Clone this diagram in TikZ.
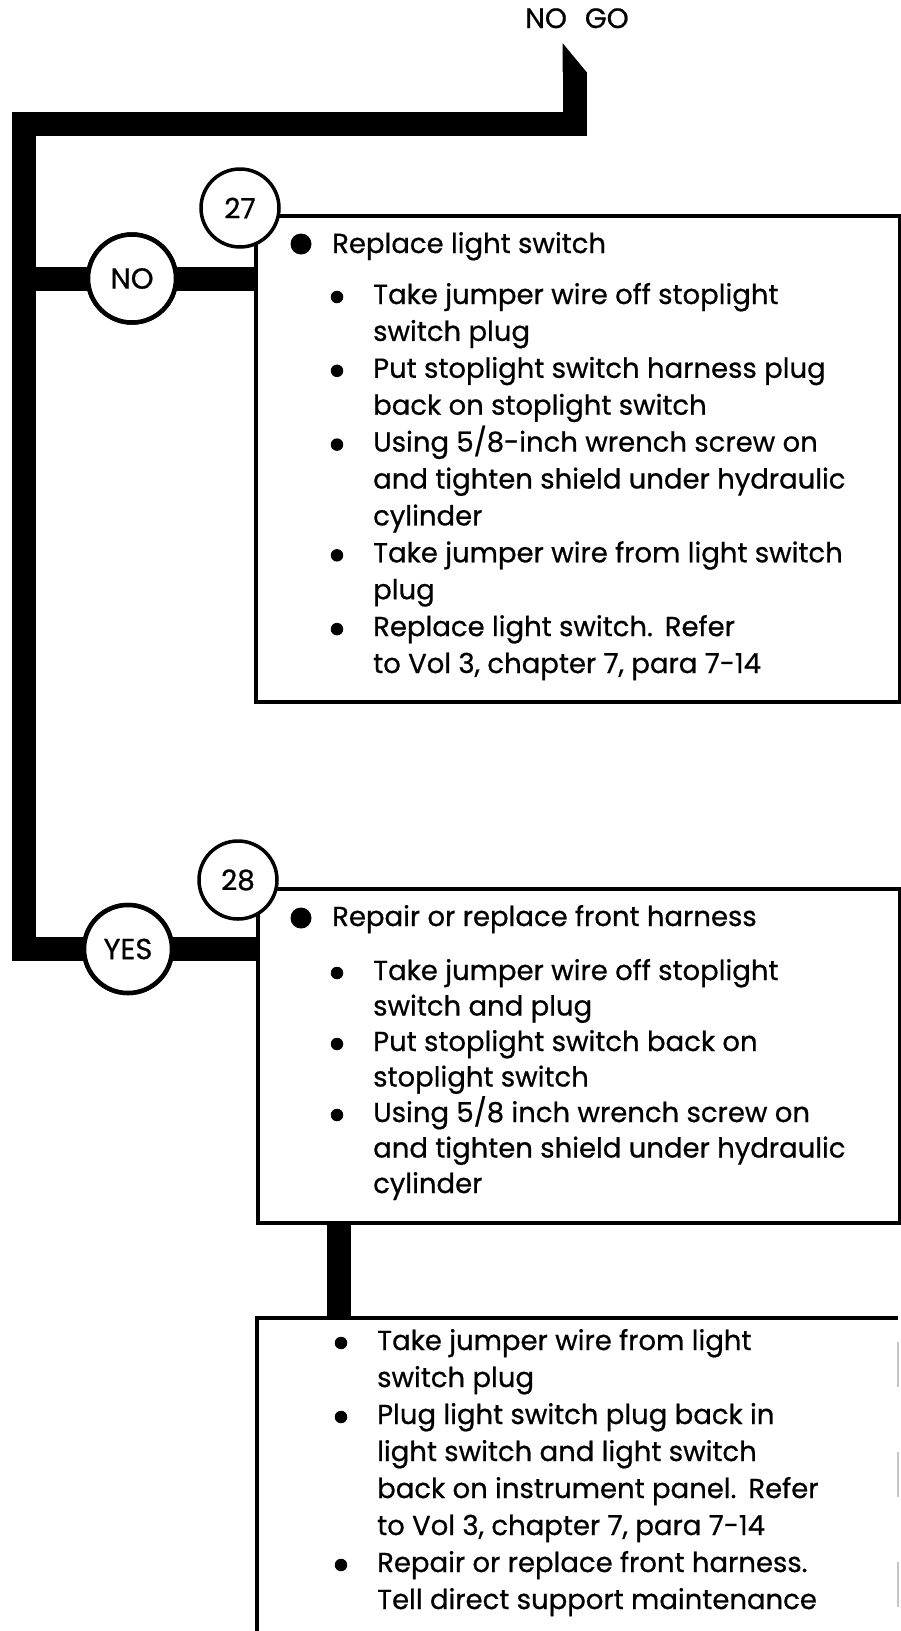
\documentclass[tikz,border=0pt]{standalone}
\usepackage{fontspec}
\setmainfont{Poppins}[FakeBold=0.7]
\begin{document}
\begin{tikzpicture}[x=1pt,y=-1pt]
\tikzset{
  txt/.style={anchor=base west, inner sep=0pt, font=\fontsize{27.5}{32}\selectfont},
  boxframe/.style={draw, line width=3.5pt, fill=white, inner sep=0pt, anchor=north west},
  bar/.style={line width=24pt, line cap=butt, line join=miter},
  numcirc/.style={circle, draw, line width=3.5pt, fill=white, minimum size=78pt, inner sep=0pt, font=\fontsize{28}{30}\selectfont},
  anscirc/.style={circle, draw, line width=4.5pt, fill=white, minimum size=88pt, inner sep=0pt, font=\fontsize{29}{30}\selectfont},
  bigdot/.style={circle, fill, minimum size=21pt, inner sep=0pt},
  smalldot/.style={circle, fill, minimum size=12.5pt, inner sep=0pt}
}
\useasboundingbox (0,0) rectangle (900,1631);

% title
\node[anchor=base, inner sep=0pt, font=\fontsize{28}{30}\selectfont] (nogo) at (577,28) {NO\hspace{18pt}GO};

% boxes
\node[boxframe, minimum width=644pt, minimum height=486pt] (b1) at (254,214) {};
\node[boxframe, minimum width=642pt, minimum height=334pt] (b2) at (256,887) {};
\coordinate (b3tl) at (257,1318);
\coordinate (b3tr) at (898,1318);
\coordinate (b3bl) at (257,1631);
\coordinate (b3br) at (898,1631);
\draw[line width=3.5pt] (b3bl) -- (b3tl) -- (b3tr);
\draw[line width=1.5pt, gray!45, dash pattern=on 45pt off 65pt] (b3tr) ++(0,24) -- (b3br);

% main connector
\coordinate (stubtop) at (574.5,72);
\coordinate (corner1) at (574.5,124);
\coordinate (corner2) at (23.5,124);
\coordinate (corner3) at (23.5,949);
\coordinate (spineno) at (23.5,278.5);
\fill (562.5,43) -- (586.5,72) -- (562.5,72) -- cycle;
\node[anscirc] (no) at (132,278.5) {};
\node[anscirc] (yes) at (128,949) {};
\draw[bar] (stubtop) -- (corner1) -- (corner2) -- (corner3) -- (b2.west |- yes);
\draw[bar] (spineno) -- (b1.west |- no);
\coordinate (c23) at (339,0);
\draw[bar] (b2.south -| c23) -- (b3tl -| c23);

% circles
\node[anscirc] (no2) at (no) {NO};
\node[anscirc] (yes2) at (yes) {YES};
\node[numcirc] (n27) at (240,208) {27};
\node[numcirc] (n28) at (238,880) {28};

% box 1 text
\node[bigdot] (d1) at (301,244) {};
\node[txt] (h1) at (332,253) {Replace light switch};
\node[smalldot] (d1a) at (337,297) {};
\node[txt] (l1a) at (373,304) {Take jumper wire off stoplight};
\node[txt] (l1b) at (373,340.9) {switch plug};
\node[smalldot] (d1c) at (337,370.8) {};
\node[txt] (l1c) at (373,377.8) {Put stoplight switch harness plug};
\node[txt] (l1d) at (373,414.7) {back on stoplight switch};
\node[smalldot] (d1e) at (337,444.6) {};
\node[txt] (l1e) at (373,451.6) {Using 5/8-inch wrench screw on};
\node[txt] (l1f) at (373,488.5) {and tighten shield under hydraulic};
\node[txt] (l1g) at (373,525.4) {cylinder};
\node[smalldot] (d1h) at (337,555.3) {};
\node[txt] (l1h) at (373,562.3) {Take jumper wire from light switch};
\node[txt] (l1i) at (373,599.2) {plug};
\node[smalldot] (d1j) at (337,629.1) {};
\node[txt] (l1j) at (373,636.1) {Replace light switch.\hspace{12pt}Refer};
\node[txt] (l1k) at (373,673) {to Vol 3, chapter 7, para 7-14};

% box 2 text
\node[bigdot] (d2) at (301,918) {};
\node[txt] (h2) at (332,926) {Repair or replace front harness};
\node[smalldot] (d2a) at (337,973) {};
\node[txt] (l2a) at (373,980) {Take jumper wire off stoplight};
\node[txt] (l2b) at (373,1015.5) {switch and plug};
\node[smalldot] (d2c) at (337,1044) {};
\node[txt] (l2c) at (373,1051) {Put stoplight switch back on};
\node[txt] (l2d) at (373,1086.5) {stoplight switch};
\node[smalldot] (d2e) at (337,1115) {};
\node[txt] (l2e) at (373,1122) {Using 5/8 inch wrench screw on};
\node[txt] (l2f) at (373,1157.5) {and tighten shield under hydraulic};
\node[txt] (l2g) at (373,1193) {cylinder};

% box 3 text
\node[smalldot] (d3a) at (341,1343) {};
\node[txt] (l3a) at (377,1350) {Take jumper wire from light};
\node[txt] (l3b) at (377,1387) {switch plug};
\node[smalldot] (d3c) at (341,1417) {};
\node[txt] (l3c) at (377,1424) {Plug light switch plug back in};
\node[txt] (l3d) at (377,1461) {light switch and light switch};
\node[txt] (l3e) at (377,1498) {back on instrument panel.\hspace{12pt}Refer};
\node[txt] (l3f) at (377,1535) {to Vol 3, chapter 7, para 7-14};
\node[smalldot] (d3g) at (341,1565) {};
\node[txt] (l3g) at (377,1572) {Repair or replace front harness.};
\node[txt] (l3h) at (377,1609) {Tell direct support maintenance};
\end{tikzpicture}
\end{document}
